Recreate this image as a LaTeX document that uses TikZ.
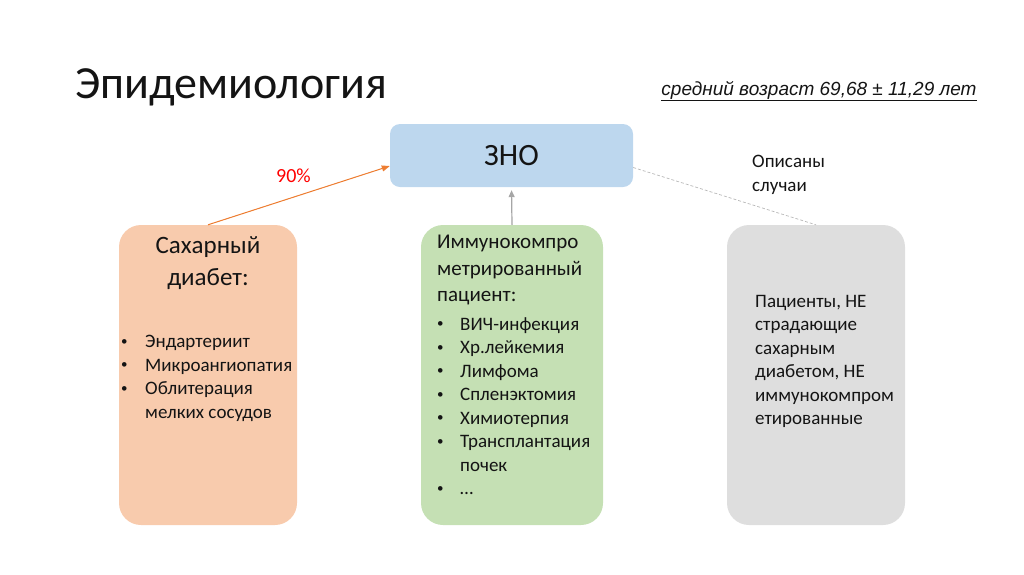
\documentclass[tikz,border=0pt]{standalone}
\usepackage{fontspec}
\setmainfont{Carlito}
\newfontfamily\arialfont{Liberation Sans}
\usetikzlibrary{positioning, arrows.meta, calc}

\definecolor{znoblue}{HTML}{BDD7EE}
\definecolor{sdorange}{HTML}{F8CBAD}
\definecolor{immgreen}{HTML}{C5E0B4}
\definecolor{othgray}{HTML}{DEDEDE}
\definecolor{arrorange}{HTML}{ED7D31}
\definecolor{arrgray}{HTML}{A6A6A6}
\definecolor{txtdark}{HTML}{141414}

\newcommand{\smalldot}{\raisebox{2.2pt}{\fontsize{13}{13}\selectfont\textbullet}}
\newcommand{\bul}{\makebox[24pt][l]{\smalldot}}
\newcommand{\bulm}{\makebox[23pt][l]{\smalldot}}

\begin{document}
\begin{tikzpicture}[
        x=1pt, y=-1pt,
        text=txtdark,
        bigbox/.style={rectangle, rounded corners=22pt, minimum width=178pt, minimum height=300pt, inner sep=0pt},
        znobox/.style={rectangle, rounded corners=10pt, fill=znoblue, minimum width=243pt, minimum height=63pt, inner sep=0pt},
        head/.style={font=\fontsize{25}{32}\selectfont, align=center, inner sep=0pt},
        lst/.style={font=\fontsize{19}{23.5}\selectfont, align=left, inner sep=0pt},
        arrow/.style={-{Triangle[length=7pt, width=6pt]}, line width=1.2pt}
    ]

    % page
    \useasboundingbox (0,0) rectangle (1024,574);

    % Title and age
    \node[anchor=base west, inner sep=0pt, font=\fontsize{46}{50}\selectfont] (title) at (75,98) {Эпидемиология};
    \node[anchor=base, inner sep=0pt, font=\arialfont\itshape\fontsize{19}{22}\selectfont] (age) at (819,95) {\underline{средний возраст 69,68 ± 11,29 лет}};

    % ZNO on top
    \node[znobox] (zno) at (511.5,155.5) {};
    \node[font=\fontsize{31}{36}\selectfont, inner sep=0pt] (znotxt) at (zno.center) {ЗНО};

    % Three groups
    \node[bigbox, fill=sdorange] (sd) at (208,375) {};
    \node[bigbox, fill=immgreen, minimum width=182pt] (imm) at (512,375) {};
    \node[bigbox, fill=othgray] (oth) at (816,375) {};

    % Texts in groups
    \node[head, anchor=north] (sdhead) at (208,236) {Сахарный\\диабет:};
    \node[lst, anchor=north west] (sdlist) at (121,335) {\bul Эндартериит\\\bul Микроангиопатия\\\bul Облитерация\\\hspace*{24pt}мелких сосудов};

    \node[lst, anchor=north west, font=\fontsize{21}{26.5}\selectfont] (immhead) at (437,235) {Иммунокомпро\\метрированный\\пациент:};
    \node[lst, anchor=north west] (immlist) at (437,317) {\bulm ВИЧ-инфекция\\\bulm Хр.лейкемия\\\bulm Лимфома\\\bulm Спленэктомия\\\bulm Химиотерпия\\\bulm Трансплантация\\\hspace*{23pt}почек\\\bulm …};

    \node[lst, anchor=north west] (othtxt) at (755,295) {Пациенты, НЕ\\страдающие\\сахарным\\диабетом, НЕ\\иммунокомпром\\етированные};

    % Connectors
    \draw[draw=arrorange, fill=arrorange, line width=1pt, -{Triangle[length=8pt, width=6pt]}] (sd.north) -- ([yshift=-10.5pt]zno.west)
        node[pos=0.47, above=14pt, text=red, font=\fontsize{20}{24}\selectfont, inner sep=0pt] (pct) {90\%};
    \draw[arrow, draw=arrgray, fill=arrgray, shorten >=3pt] (imm.north) -- (zno.south);
    \draw[arrgray!80, line width=0.7pt, dash pattern=on 3pt off 2pt] ([yshift=-12pt]zno.east) -- (oth.north);
    \node[lst, anchor=north west] (descr) at (752,155) {Описаны\\случаи};

\end{tikzpicture}
\end{document}
